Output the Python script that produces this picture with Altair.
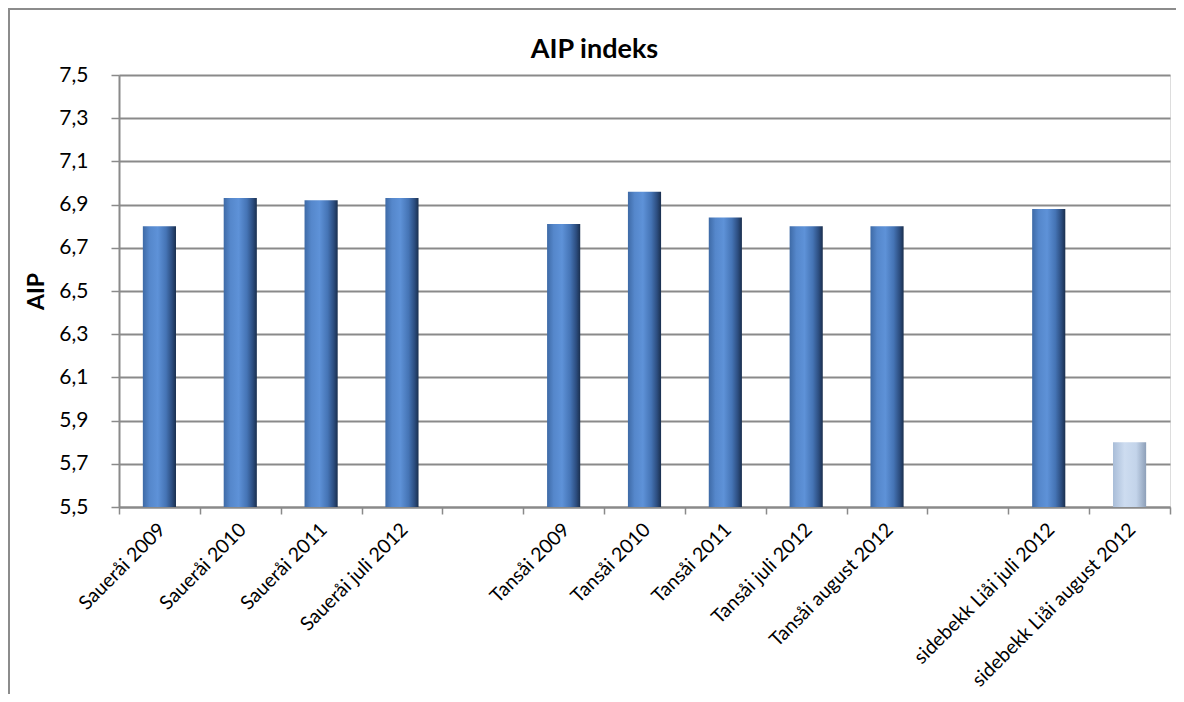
import altair as alt
import pandas as pd

categories = [
    "Saueråi 2009", "Saueråi 2010", "Saueråi 2011", "Saueråi juli 2012", " ",
    "Tansåi 2009", "Tansåi 2010", "Tansåi 2011", "Tansåi juli 2012", "Tansåi august 2012", "  ",
    "sidebekk Liåi juli 2012", "sidebekk Liåi august 2012",
]
bar_names = [
    "Saueråi 2009", "Saueråi 2010", "Saueråi 2011", "Saueråi juli 2012",
    "Tansåi 2009", "Tansåi 2010", "Tansåi 2011", "Tansåi juli 2012", "Tansåi august 2012",
    "sidebekk Liåi juli 2012", "sidebekk Liåi august 2012",
]
aip_values = [6.80, 6.93, 6.92, 6.93, 6.81, 6.96, 6.84, 6.80, 6.80, 6.88, 5.80]
highlight = [False] * 10 + [True]
y_ticks = [5.5, 5.7, 5.9, 6.1, 6.3, 6.5, 6.7, 6.9, 7.1, 7.3, 7.5]

df = pd.DataFrame({"kategori": bar_names, "AIP": aip_values, "lys": highlight})

FONT = "Lato"
GRID = "#8a8a8a"

x_enc = alt.X(
    "kategori:N",
    scale=alt.Scale(domain=categories, paddingInner=0, paddingOuter=0),
    axis=alt.Axis(
        title=None, labelAngle=315, labelAlign="right", labelBaseline="top",
        labelPadding=6, labelOffset=-4, labelFontSize=19.5, labelFont=FONT,
        labelColor="#000000", labelLimit=600,
        tickBand="extent", tickSize=7, tickColor=GRID, tickWidth=1.5,
        domainColor=GRID, domainWidth=2, grid=False, labelOverlap=False,
    ),
)
y_enc = alt.Y(
    "AIP:Q",
    scale=alt.Scale(domain=[5.5, 7.5], zero=False, nice=False),
    axis=alt.Axis(
        title="AIP", titleFont=FONT, titleFontSize=23, titleFontWeight="bold",
        titleColor="#000000", titlePadding=10,
        values=y_ticks, labelExpr="replace(format(datum.value, '.1f'), '.', ',')",
        labelFont=FONT, labelFontSize=21, labelColor="#000000", labelPadding=23,
        tickSize=8, tickColor=GRID, tickWidth=1.5,
        domainColor=GRID, domainWidth=2,
        grid=True, gridColor=GRID, gridWidth=2,
    ),
)

dark_grad = alt.LinearGradient(
    gradient="linear", x1=0, x2=1, y1=0, y2=0,
    stops=[
        alt.GradientStop(color="#3e6aa6", offset=0),
        alt.GradientStop(color="#5587cb", offset=0.2),
        alt.GradientStop(color="#5e92d8", offset=0.45),
        alt.GradientStop(color="#4574b5", offset=0.7),
        alt.GradientStop(color="#2c4d7f", offset=0.88),
        alt.GradientStop(color="#1a2f4e", offset=1),
    ],
)
light_grad = alt.LinearGradient(
    gradient="linear", x1=0, x2=1, y1=0, y2=0,
    stops=[
        alt.GradientStop(color="#a9bdd8", offset=0),
        alt.GradientStop(color="#cddcf0", offset=0.35),
        alt.GradientStop(color="#c3d4ea", offset=0.7),
        alt.GradientStop(color="#8d9fb8", offset=1),
    ],
)

base = alt.Chart(df)
bars_dark = base.transform_filter("!datum.lys").mark_bar(
    width={"band": 0.41}, color=dark_grad
).encode(x=x_enc, y=y_enc, y2=alt.datum(5.5))
bars_light = base.transform_filter("datum.lys").mark_bar(
    width={"band": 0.41}, color=light_grad
).encode(x=x_enc, y=y_enc, y2=alt.datum(5.5))

one = pd.DataFrame({"f": [0]})
frame = alt.Chart(one).mark_rect(
    fill="transparent", stroke="#8c8c8c", strokeWidth=2
).encode(x=alt.value(-110), x2=alt.value(1064), y=alt.value(-66), y2=alt.value(626))

chart = alt.layer(bars_dark, bars_light, frame).properties(
    width=1051, height=432,
    title=alt.TitleParams(
        "AIP indeks", font=FONT, fontSize=27, fontWeight="bold", color="#000000",
        anchor="middle", frame="group", offset=0, baseline="alphabetic",
        dx=-50, dy=77,
    ),
    autosize=alt.AutoSizeParams(type="none"),
    padding={"left": 111, "top": 67, "right": 6, "bottom": 187},
).configure_view(stroke=None).configure(background="white")

chart.save("out.html", embed_options={"renderer": "svg", "actions": False})
